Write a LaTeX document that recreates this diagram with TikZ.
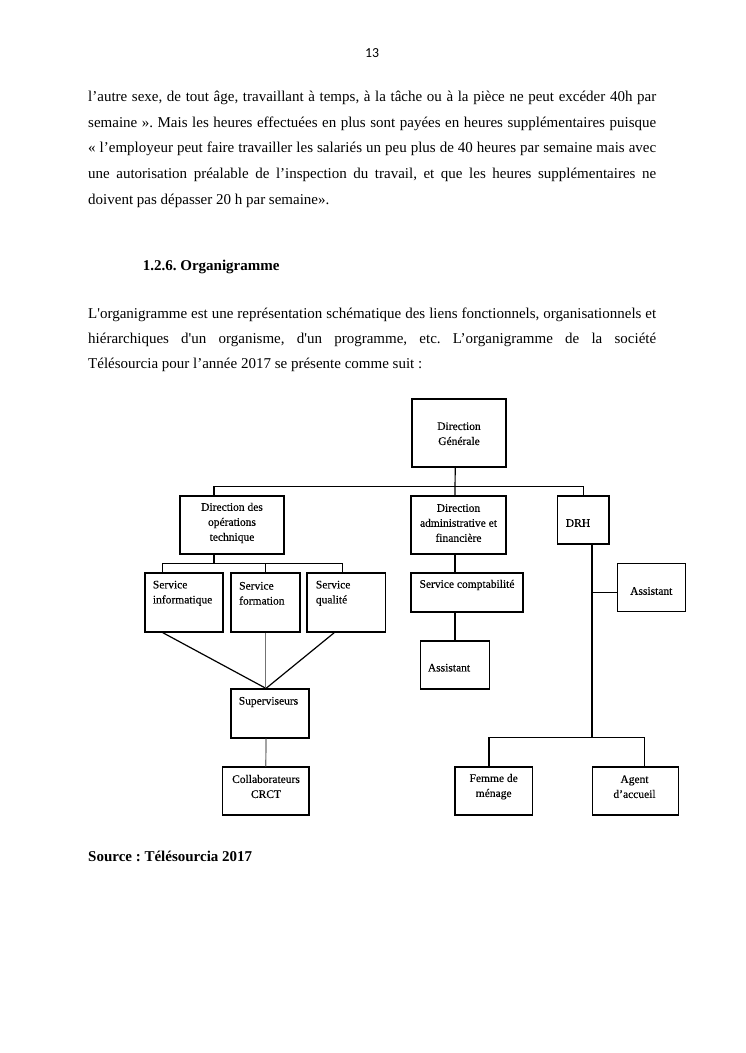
\documentclass[tikz,border=0pt]{standalone}
\usepackage{fontspec}
\setmainfont{Liberation Serif}
\newfontfamily\pagenumfont{Carlito}
\newfontface\chartfont[FakeBold=0.25]{Liberation Serif}
\definecolor{lgray}{RGB}{115,115,115}
\frenchspacing
\begin{document}
\begin{tikzpicture}[x=1pt,y=-1pt,
  box/.style={draw, line width=1.25pt, inner sep=0pt, minimum width=#1},
  conn/.style={line width=1.2pt},
  gconn/.style={line width=1.2pt, draw=lgray},
  ctext/.style={font=\chartfont\fontsize{11.5}{15}\selectfont, align=center, inner sep=0pt},
  ltext/.style={font=\chartfont\fontsize{11.5}{15}\selectfont, align=left, inner sep=0pt, anchor=west},
  body/.style={font=\fontsize{15}{18}\selectfont, inner sep=0pt, anchor=base west},
  bodyb/.style={font=\fontsize{15}{18}\selectfont\bfseries, inner sep=0pt, anchor=base west}]
\fill[white] (0,0) rectangle (745,1053);
\useasboundingbox (0,0) rectangle (745,1053);

% page number
\node[font=\pagenumfont\fontsize{13.8}{16}\selectfont, inner sep=0pt, anchor=base] (pnum) at (372.2,57.5) {13};

% paragraph 1
\node[body] (p1l1) at (88,101.7) {\makebox[568pt][s]{l’autre sexe, de tout âge, travaillant à temps, à la tâche ou à la pièce ne peut excéder 40h par}};
\node[body] (p1l2) at (88,127.3) {\makebox[568pt][s]{semaine ». Mais les heures effectuées en plus sont payées en heures supplémentaires puisque}};
\node[body] (p1l3) at (88,152.9) {\makebox[568pt][s]{« l’employeur peut faire travailler les salariés un peu plus de 40 heures par semaine mais avec}};
\node[body] (p1l4) at (88,178.5) {\makebox[568pt][s]{une autorisation préalable de l’inspection du travail, et que les heures supplémentaires ne}};
\node[body] (p1l5) at (88,204.1) {doivent pas dépasser 20 h par semaine».};

% heading
\node[bodyb] (head) at (142.7,270) {1.2.6. Organigramme};

% paragraph 2
\node[body] (p2l1) at (88,318.4) {\makebox[568pt][s]{L\textquotesingle organigramme est une représentation schématique des liens fonctionnels, organisationnels et}};
\node[body] (p2l2) at (88,343.6) {\makebox[568pt][s]{hiérarchiques d\textquotesingle un organisme, d\textquotesingle un programme, etc. L’organigramme de la société}};
\node[body] (p2l3) at (88,368.8) {Télésourcia pour l’année 2017 se présente comme suit :};

% boxes
\node[box=94pt, minimum height=68pt] (dg) at (459,433) {};
\node[box=104pt, minimum height=58pt] (dot) at (232,525) {};
\node[box=95pt, minimum height=58pt] (daf) at (458.5,525) {};
\node[box=51.3pt, minimum height=48pt] (drh) at (583.3,520) {};
\node[box=78pt, minimum height=59pt] (info) at (184,602.5) {};
\node[box=69pt, minimum height=59pt] (form) at (265.5,602.5) {};
\node[box=78.7pt, minimum height=59pt] (qual) at (346.3,602.5) {};
\node[box=112pt, minimum height=39pt] (sc) at (467,592.5) {};
\node[box=68.6pt, minimum height=48pt] (asst1) at (455,665) {};
\node[box=68.4pt, minimum height=48.4pt] (asst2) at (651.5,587.5) {};
\node[box=78pt, minimum height=49pt] (sup) at (270,713.5) {};
\node[box=86.3pt, minimum height=48pt] (collab) at (265.8,791) {};
\node[box=77.3pt, minimum height=48pt] (femme) at (493.7,791) {};
\node[box=86pt, minimum height=48pt] (agent) at (635.3,791) {};

% texts
\node[ctext] (dg-t) at (459,433.7) {Direction\\Générale};
\node[ctext] (dot-t) at (232,523) {Direction des\\opérations\\technique};
\node[ctext] (daf-t) at (458.5,523) {Direction\\administrative et\\financière};
\node[ltext] (drh-t) at (565.7,523) {DRH};
\node[ltext] (info-t) at (152.7,593.3) {Service\\informatique};
\node[ltext] (form-t) at (239,593.3) {Service\\formation};
\node[ltext] (qual-t) at (315.7,593.3) {Service\\qualité};
\node[ctext] (sc-t) at (467,585) {Service comptabilité};
\node[ctext] (asst1-t) at (449,667.7) {Assistant};
\node[ctext] (asst2-t) at (651.3,591) {Assistant};
\node[ctext] (sup-t) at (268.5,702) {Superviseurs};
\node[ctext] (collab-t) at (266,786.5) {Collaborateurs\\CRCT};
\node[ctext] (femme-t) at (493.7,786.7) {Femme de\\ménage};
\node[ctext] (agent-t) at (634.5,786.7) {Agent\\d’accueil};

% source
\node[bodyb] (src) at (88,861.7) {Source : Télésourcia 2017};

% junction coordinates
\coordinate (bus1) at (455,486.7);
\coordinate (bus2) at (214,563.3);
\coordinate (jdrh) at (592,592.3);
\coordinate (bus3) at (592,737.3);

% connectors
\draw[conn] ([xshift=-3.8pt]dg.south) -- ([xshift=-3.5pt]daf.north);
\draw[conn] ([xshift=-18pt]dot.north) |- (bus1) -| (drh.north);
\draw[conn] ([xshift=-18pt]dot.south) -- (bus2);
\draw[conn] ([xshift=-21.3pt]info.north) |- (bus2) -| ([xshift=-3.7pt]qual.north);
\draw[conn] (bus2 -| form.north) -- (form.north);
\draw[conn] ([xshift=-21.3pt]info.south) -- ([xshift=-4pt]sup.north);
\draw[conn] ([xshift=-12pt]qual.south) -- ([xshift=-4pt]sup.north);
\draw[gconn] (form.south) -- (form.south |- sup.north);
\draw[gconn] ([xshift=-4pt]sup.south) -- (collab.north);
\draw[conn] ([xshift=-3.5pt]daf.south) -- ([xshift=-12pt]sc.north);
\draw[conn] ([xshift=-12pt]sc.south) -- (asst1.north);
\draw[conn] ([xshift=8.7pt]drh.south) -- (bus3);
\draw[conn] (jdrh) -- (jdrh -| asst2.west);
\draw[conn] ([xshift=-4.7pt]femme.north) |- (bus3) -| ([xshift=9pt]agent.north);
\end{tikzpicture}
\end{document}
